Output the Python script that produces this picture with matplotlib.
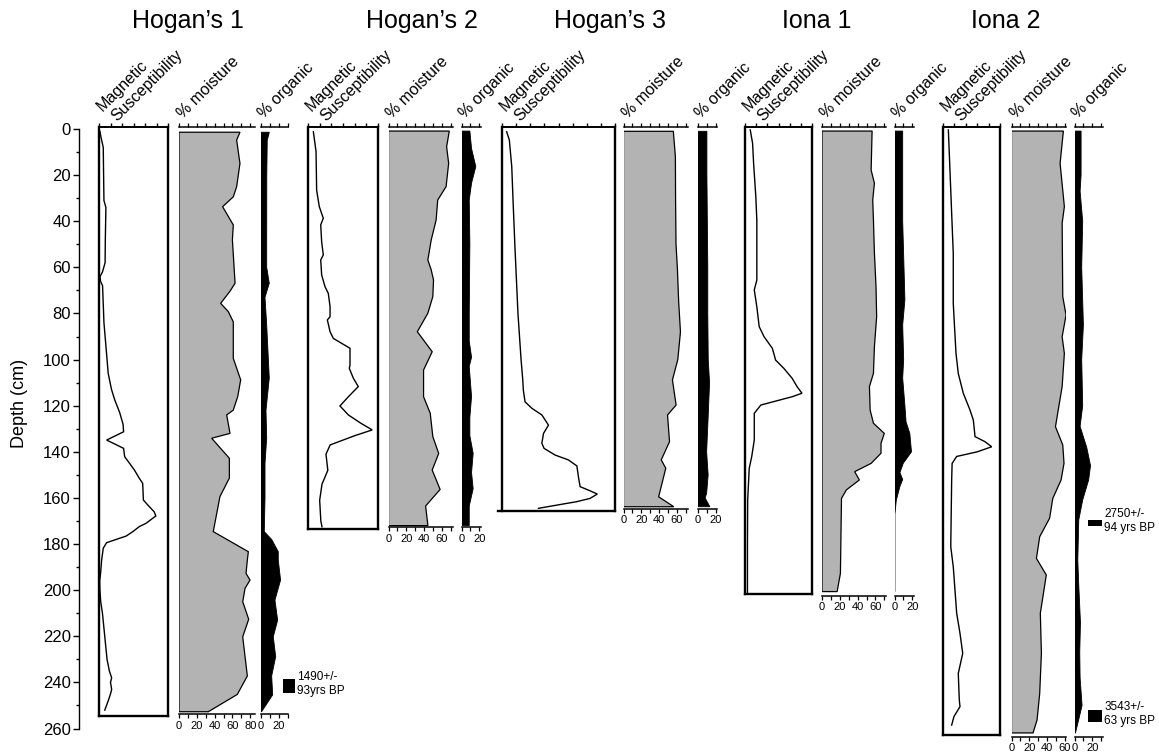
import matplotlib
matplotlib.use('Agg')
import matplotlib.pyplot as plt
import numpy as np
from matplotlib.ticker import MultipleLocator
from matplotlib.patches import Rectangle

plt.rcParams['font.family'] = ['Liberation Sans', 'DejaVu Sans']

# ---------------- data ----------------
sites = ["Hogan\u2019s 1", "Hogan\u2019s 2", "Hogan\u2019s 3", "Iona 1", "Iona 2"]

# Hogan's 1
h1_ms_d = [1, 3, 8, 20, 31, 34, 48, 58, 62, 64, 66, 68, 84, 94, 106, 113, 117.5, 123, 128, 131.3, 134.9, 136.6,
           138.5, 142.1, 145, 147.9, 151.5, 153.7, 160.9, 163, 166, 167.8, 171, 172.4, 174.6, 176.5, 178.2, 179.4,
           181.8, 186.9, 192, 196, 200, 205, 210, 215, 220, 225, 230, 235, 238, 240, 243, 245, 248, 252]
h1_ms = [0.8, 1.5, 3.7, 4, 4.3, 6, 5.5, 5.3, 3, 0.9, 1.3, 3.1, 4.3, 6, 8, 10.9, 13.7, 18, 20.9, 21.4, 6.6, 13.7,
         21.4, 22.3, 26.6, 30.8, 35.1, 38, 38.6, 42.3, 48, 49.4, 40.9, 35.1, 29.4, 23.7, 13.7, 6.6,
         3.7, 2.3, 1.5, 0.6, 0.8, 1.5, 3, 4, 5, 6, 7, 9, 11, 10, 11, 10, 8, 5]
h1_moist_d = [1.4, 4.8, 12, 14.9, 25, 29.4, 33.7, 41.6, 48.1, 66.9, 70.5, 75.6, 79.2, 83.6, 99.5, 104.5, 108.8,
              116, 121.9, 124, 132, 134.1, 142.8, 151.4, 159.4, 174.6, 183.3, 186.9, 192.7, 195.6, 199.2, 205,
              212.6, 220.2, 228.8, 237.2, 245.2, 252.7]
h1_moist = [68.5, 64.8, 67.4, 68.5, 64.8, 61, 49, 61, 60, 63, 57, 46.8, 55.4, 61, 61, 65.5, 69.3,
            66, 61, 53.6, 57.3, 36.7, 56.6, 56.6, 46, 38.5, 77.9, 76.8, 75.3, 79.8, 74.2, 71.6,
            78.3, 71.6, 74.2, 76.8, 65.5, 32.9]
h1_org_d = [1.4, 5, 20, 48, 60, 66.9, 73, 85, 108, 122, 134, 145, 160, 174.6, 178, 183.3, 186.9, 195.6, 204.3,
            213, 220.2, 228.8, 237.2, 245.4, 252.7]
h1_org = [9.3, 7, 6.5, 6.4, 6.4, 9.3, 4.5, 6.4, 9.3, 5.6, 6.4, 4.5, 4.5, 3.7, 12, 19.4, 19.4, 22, 15.7,
          18.7, 13.8, 16.5, 12, 13.1, 0.7]

# Hogan's 2
h2_ms_d = [1.2, 9.8, 26.5, 33.7, 38.7, 41.6, 48.9, 54.6, 56.8, 63.3, 68.4, 71.3, 77, 81.4, 82.8, 87.9, 90.8,
           95.1, 102.3, 103.8, 108.1, 111.7, 116.1, 120.1, 124, 127.5, 130.5, 133, 137, 141, 148, 154, 161,
           170, 172.5]
h2_ms = [4.6, 6.9, 7.4, 9.7, 13.1, 10.9, 11.7, 13.1, 10.9, 11.7, 14.6, 17.4, 18.9, 18.9, 16.6, 18.9, 21.7,
         36, 36, 35.4, 38.9, 43.1, 34.6, 27.4, 34.6, 45, 55, 40, 19, 15.4, 17, 12, 10, 11, 12]
h2_moist_d = [0.9, 7.7, 14.9, 25, 30.8, 39.5, 48.1, 56.8, 61.1, 65.5, 72.7, 79.9, 87.9, 96.6, 104.5, 116.1,
              123.3, 133.4, 140.7, 147.9, 156.3, 163.5, 171.7, 172]
h2_moist = [68.3, 65.3, 67.6, 64.7, 55.3, 53.5, 48, 44.2, 48, 50.6, 49.8, 44.2, 32.4, 49.1, 39.4, 39.4,
            46.9, 49.8, 56.4, 49.1, 58, 41.7, 44.2, 44.2]
h2_org_d = [0.9, 8.5, 16.3, 23.5, 30.8, 50, 80, 92, 99, 103, 116, 125, 133, 140.7, 149, 156, 163.5, 172]
h2_org = [9.4, 11.3, 16.1, 11.3, 8.7, 9.4, 8.7, 8.7, 11.3, 8.7, 11.3, 9.4, 9.4, 13.1, 11.3, 13.1, 8.7, 8.7]

# Hogan's 3
h3_ms_d = [1.2, 4.8, 16.3, 33.7, 51.7, 80, 100, 108.8, 113.2, 118.3, 121.1, 124, 128.4, 132, 136.3, 138.5,
           141.4, 143.5, 146.1, 150.8, 155.1, 156.6, 158.3, 160.2, 161.6, 163.1, 164.5]
h3_ms = [3.3, 5.2, 6.9, 8, 9.2, 11.3, 13.5, 14.7, 15.1, 16.3, 21.1, 28.2, 32.9, 29.4, 28.2, 29.8,
         37.6, 47, 53, 54.1, 55.3, 61.2, 67.5, 62.3, 53, 38.8, 25.8]
h3_moist_d = [1, 12, 30, 50, 60, 75, 88, 100, 108.8, 119.7, 124, 135.6, 143.5, 147.1, 159.5, 163.8]
h3_moist = [56, 58.3, 58.5, 59, 60.5, 62, 64, 61, 55, 59.1, 49.5, 51.7, 42.4, 47.5, 39.5, 56.5]
h3_org_d = [1, 20, 40, 60, 80, 100, 110, 125, 140, 150, 158, 160, 163.8]
h3_org = [10, 10, 10.5, 11, 11, 11.5, 13, 11.4, 9.7, 11.4, 9.7, 8, 13.3]

# Iona 1
i1_ms_d = [0.4, 6.2, 14.9, 29.4, 39.5, 65.5, 69.8, 77.1, 85.7, 90.1, 95.1, 100.2, 103.8, 108.1, 111.7, 114.6,
           116.1, 119.7, 123.3, 134.9, 142.1, 147.1, 160.9, 180, 201]
i1_ms = [4.7, 6.8, 7.7, 9.7, 10.6, 10.6, 8.3, 10.6, 12.7, 17.1, 24.5, 27.4, 34.8, 42.2, 46.6, 51,
         42.2, 14.2, 8.3, 8.3, 6, 3.8, 2.4, 2.2, 2.2]
i1_moist_d = [0.9, 17.8, 23.5, 30.8, 39.5, 53.9, 68.4, 81.4, 94.4, 106, 111.7, 121.9, 127.6, 132, 136.3, 140.6,
              145, 148.6, 152.2, 156.5, 160.2, 192.7, 200.6]
i1_moist = [56.3, 55.2, 58.9, 57, 57.8, 58.9, 60.7, 61.4, 58.9, 57.8, 53.3, 54.1, 57.8, 70, 66.3, 66.3,
            55.2, 36.7, 42, 27.4, 21.9, 20.7, 17]
i1_org_d = [0.9, 40, 74, 85, 100, 108, 120, 127, 132, 140, 145, 149, 152, 155, 161, 167, 200.6]
i1_org = [9.2, 9.2, 11.7, 9.2, 10.3, 9.2, 11.7, 13, 17.2, 19.1, 9.8, 6.1, 9.2, 6.1, 2, 0.5, 0.5]

# Iona 2
i2_ms_d = [0.4, 17.8, 36.6, 53.9, 75.6, 97.3, 106, 114.6, 121.9, 126.2, 133.4, 135.6, 137.8, 140, 142, 145,
           152.2, 181.1, 189.8, 210, 218.7, 227.4, 236.1, 247.6, 250.5, 254.8, 258.5]
i2_ms = [4.7, 6.1, 7.6, 9, 9, 11.4, 13.4, 17.8, 23.7, 26.6, 28.1, 36.8, 42.7, 30, 12, 8,
         7.6, 6.8, 9, 12, 14.9, 17.3, 13.4, 14.3, 14.9, 9.6, 7.6]
i2_moist_d = [0.9, 14.9, 33.7, 40.9, 72.7, 80.7, 90.1, 97.3, 111.7, 129.1, 137, 145, 152.2, 160.2, 168.8,
              176.8, 186.2, 193.4, 210, 227.4, 244.7, 256.3, 261.9]
i2_moist = [58.3, 54.6, 59.4, 56.9, 57.6, 61.3, 56.9, 59.4, 56.9, 49.4, 57.6, 59, 55.7, 46.4, 42.8,
            31.7, 28, 39.1, 32.4, 33.6, 31.7, 28.7, 24.2]
i2_org_d = [0.9, 20, 27, 40, 60, 85, 100, 120, 129, 138, 146, 152.2, 160.9, 169.5, 187, 198, 214, 227, 238,
            250, 256, 261.9]
i2_org = [7.4, 7.4, 6.3, 9.2, 8.1, 10, 8.1, 9.2, 6.3, 13.7, 18, 15.9, 9.2, 4.8, 3.7, 4.8, 6.7, 5.9, 6.3,
          8.5, 4.8, 1.1]

# radiocarbon dates: (site index, depth top, depth bottom, label)
date_labels = ["1490+/-\n93yrs BP", "2750+/-\n94 yrs BP", "3543+/-\n63 yrs BP"]
date_site = [0, 4, 4]
date_top = [238.6, 169.5, 252.0]
date_bot = [244.7, 172.1, 257.0]

depth_ticks = list(range(0, 261, 20))

# ---------------- layout ----------------
W, H = 1159, 753
Y0, SC = 129.0, 2.306
D_TOP, D_BOT = -0.9, 266.0


def ypix(d):
    return Y0 + SC * d


AX_B = 1 - ypix(D_BOT) / H
AX_H = (ypix(D_BOT) - ypix(D_TOP)) / H
PXU = 0.89  # pixels per % unit

fig = plt.figure(figsize=(W / 100, H / 100), dpi=100)
fig.patch.set_facecolor('white')

# per site: ms (x0, x1, xmax, frame bottom), moist (x0, xmax), org (x0, xmax), bottom axis depth, title x
layout = [
    dict(ms=(99, 168, 60, 254.4), mo=(179, 85), og=(261, 30), bax=253.8, tx=188, ext=0),
    dict(ms=(308, 378, 60, 173.5), mo=(388.5, 72), og=(461.5, 21.5), bax=172.8, tx=422, ext=0),
    dict(ms=(502, 615, 80, 165.5), mo=(623.5, 72), og=(698, 21), bax=164.8, tx=610, ext=4),
    dict(ms=(745, 812, 60, 201.7), mo=(822, 72), og=(894.5, 21.5), bax=202.5, tx=817, ext=0),
    dict(ms=(943, 1000, 50, 262.8), mo=(1011.5, 61), og=(1074.5, 32), bax=263.5, tx=1006, ext=0),
]
ms_data = [(h1_ms_d, h1_ms), (h2_ms_d, h2_ms), (h3_ms_d, h3_ms), (i1_ms_d, i1_ms), (i2_ms_d, i2_ms)]
mo_data = [(h1_moist_d, h1_moist), (h2_moist_d, h2_moist), (h3_moist_d, h3_moist), (i1_moist_d, i1_moist),
           (i2_moist_d, i2_moist)]
og_data = [(h1_org_d, h1_org), (h2_org_d, h2_org), (h3_org_d, h3_org), (i1_org_d, i1_org), (i2_org_d, i2_org)]


def make_ax(x0, x1, xmax):
    ax = fig.add_axes([x0 / W, AX_B, (x1 - x0) / W, AX_H])
    ax.set_xlim(0, xmax)
    ax.set_ylim(D_BOT, D_TOP)
    ax.patch.set_alpha(0)
    ax.set_yticks([])
    return ax


def rtext(px, py, s, size):
    fig.text(px / W, 1 - py / H, s, rotation=45, rotation_mode='anchor', ha='left', va='baseline',
             fontsize=size)


org_axes = []
for i, L in enumerate(layout):
    # ---- magnetic susceptibility ----
    x0, x1, xmax, fb = L['ms']
    ax = make_ax(x0, x1, xmax)
    for s in ['left', 'right']:
        ax.spines[s].set_bounds(fb, D_TOP)
        ax.spines[s].set_linewidth(1.7)
    ax.spines['top'].set_linewidth(1.4)
    ax.spines['bottom'].set_position(('data', fb))
    ax.spines['bottom'].set_linewidth(1.7)
    upx = (x1 - x0) / xmax
    ax.spines['bottom'].set_bounds(-L['ext'] / upx, xmax)
    ax.xaxis.set_ticks_position('top')
    ax.set_xticks(np.arange(0, xmax + 0.1, 10))
    ax.tick_params(axis='x', direction='out', length=2.6, width=1, labeltop=False, labelbottom=False)
    d, v = ms_data[i]
    ax.plot(v, d, color='black', lw=1.0, solid_joinstyle='miter')
    rtext(x0 + 4, 112, 'Magnetic', 11.5)
    rtext(x0 + 18, 121.5, 'Susceptibility', 11.5)

    # ---- moisture ----
    mx0, mxmax = L['mo']
    ax2 = make_ax(mx0, mx0 + mxmax * PXU, mxmax)
    d, v = mo_data[i]
    ax2.fill(np.concatenate([[0], v, [0]]), np.concatenate([[d[0]], d, [d[-1]]]),
             facecolor='#b3b3b3', edgecolor='black', lw=0.9, joinstyle='miter')
    rtext(mx0 + 4, 119, '% moisture', 11.5)

    # ---- organic ----
    ox0, oxmax = L['og']
    ax3 = make_ax(ox0, ox0 + oxmax * PXU, oxmax)
    d, v = og_data[i]
    ax3.fill(np.concatenate([[0], v, [0]]), np.concatenate([[d[0]], d, [d[-1]]]),
             facecolor='black', edgecolor='black', lw=0.6)
    rtext(ox0 + 3, 119, '% organic', 11.5)
    org_axes.append(ax3)

    for a in (ax2, ax3):
        a.spines['left'].set_visible(False)
        a.spines['right'].set_visible(False)
        a.spines['bottom'].set_position(('data', L['bax']))
        a.spines['top'].set_linewidth(1.1)
        a.spines['bottom'].set_linewidth(1.1)
        a.xaxis.set_major_locator(MultipleLocator(20))
        a.xaxis.set_minor_locator(MultipleLocator(10))
        a.tick_params(axis='x', which='both', top=True, bottom=True, direction='out', length=3,
                      width=0.9, labeltop=False, labelbottom=True, labelsize=8, pad=1.5)

    fig.text(L['tx'] / W, 1 - 28 / H, sites[i], ha='center', va='baseline', fontsize=18)

# ---- depth axis ----
axd = fig.add_axes([79 / W, AX_B, 0.0005, AX_H])
axd.set_ylim(D_BOT, D_TOP)
axd.patch.set_alpha(0)
for s in ['top', 'right', 'bottom']:
    axd.spines[s].set_visible(False)
axd.spines['left'].set_bounds(260, 0)
axd.spines['left'].set_linewidth(1.0)
axd.set_yticks(depth_ticks)
axd.set_yticks(list(range(0, 261, 10)), minor=True)
axd.set_yticklabels([str(t) for t in depth_ticks])
axd.tick_params(axis='y', which='major', length=4, width=1, labelsize=12, pad=2)
axd.tick_params(axis='y', which='minor', length=2.2, width=1)
axd.set_xticks([])
fig.text(20 / W, 1 - 403 / H, 'Depth (cm)', rotation=90, ha='center', va='center', fontsize=13)

# ---- radiocarbon dates ----
for k in range(len(date_labels)):
    ax3 = org_axes[date_site[k]]
    ox0 = layout[date_site[k]]['og'][0]
    # marker placed to the right of the organic curve
    if date_site[k] == 0:
        mx0, mx1 = 282.7, 295
    else:
        mx0, mx1 = 1088, 1102
    u0 = (mx0 - ox0) / PXU
    u1 = (mx1 - ox0) / PXU
    ax3.add_patch(Rectangle((u0, date_top[k]), u1 - u0, date_bot[k] - date_top[k], facecolor='black',
                            edgecolor='none', clip_on=False))
    l1, l2 = date_labels[k].split('\n')
    ymid = ypix((date_top[k] + date_bot[k]) / 2)
    tx = (mx1 + 2.5) / W
    fig.text(tx, 1 - (ymid - 9) / H, l1, ha='left', va='center', fontsize=8.5)
    fig.text(tx, 1 - (ymid + 5) / H, l2, ha='left', va='center', fontsize=8.5)

fig.savefig('out.png', dpi=100, facecolor='white')
